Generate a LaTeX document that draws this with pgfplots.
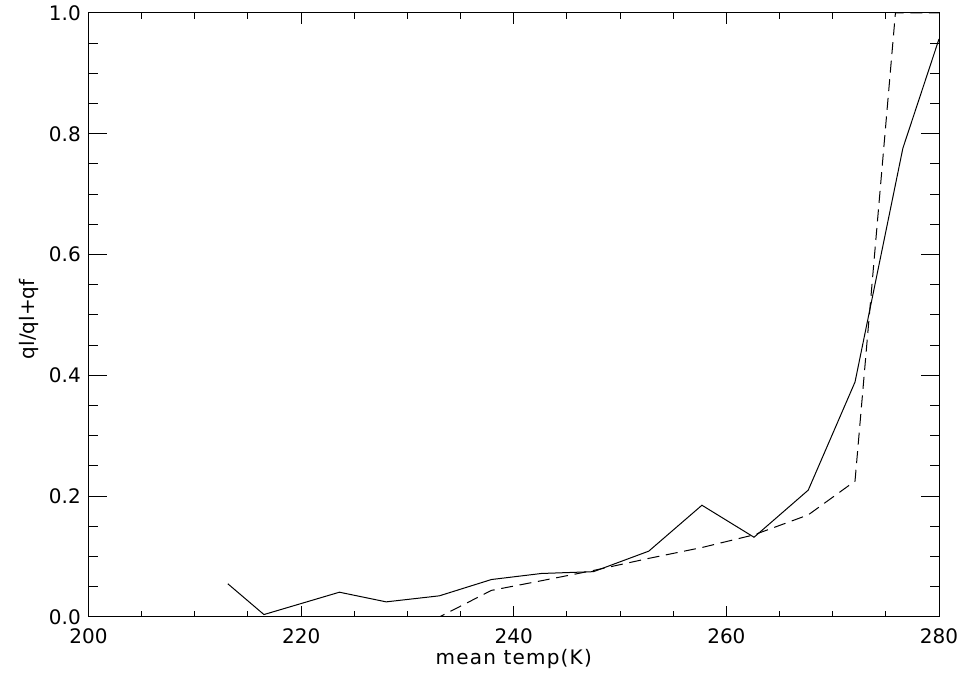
\documentclass[border=0pt]{standalone}
\usepackage{fontspec}
\setmainfont{DejaVu Sans}
\usepackage{pgfplots}
\pgfplotsset{compat=1.18}

\pgfplotsset{
  idlbase/.style={
    scale only axis,
    width=637.9pt, height=453pt,
    xmin=200, xmax=280, ymin=0, ymax=1.0,
    axis line style={black, line width=0.75pt},
    tick style={black, line width=0.75pt},
    tick align=inside,
    ticklabel style={font=\fontsize{15}{18}\selectfont, inner sep=0pt},
    xticklabel style={anchor=north, yshift=-8.25pt},
    yticklabel style={anchor=east, xshift=-5.6pt},
    /pgf/number format/assume math mode=true,
  },
}

\begin{document}
\begin{tikzpicture}
% x ticks, data
\begin{axis}[idlbase, name=ax,
  xtick={200,220,...,280}, minor x tick num=3,
  ytick=\empty,
  major tick length=8.25pt, minor tick length=4.5pt,
  xlabel={\addfontfeature{LetterSpace=6}mean temp(K)},
  every axis x label/.style={at={(axis description cs:0.5,-0.0795)}, anchor=base,
    font=\fontsize{15}{18}\selectfont, inner sep=0pt},
]
\addplot[black, line width=0.75pt] coordinates {
  (213.1,0.055) (216.5,0.004) (223.6,0.041) (228.0,0.025) (233.0,0.035)
  (237.9,0.062) (242.6,0.072) (247.5,0.075) (252.7,0.109) (257.7,0.185)
  (262.6,0.132) (267.7,0.210) (272.1,0.389) (276.6,0.776) (280.0,0.957)
};
\addplot[black, line width=0.75pt, dash pattern=on 9pt off 5pt] coordinates {
  (213.1,0) (216.5,0) (223.6,0) (228.0,0) (233.0,0)
  (237.9,0.044) (242.6,0.060) (247.5,0.077) (252.7,0.097) (257.7,0.115)
  (262.6,0.136) (267.7,0.169) (272.1,0.225) (275.9,1.0) (280.0,1.0)
};
\end{axis}
% y ticks
\begin{axis}[idlbase,
  xtick=\empty,
  ytick={0,0.2,...,1.0}, minor y tick num=3,
  major tick length=13.5pt, minor tick length=6.75pt,
  yticklabel style={/pgf/number format/fixed, /pgf/number format/fixed zerofill,
    /pgf/number format/precision=1},
  ylabel={ql/ql+qf},
  every axis y label/.style={at={(axis description cs:-0.0641,0.493)}, rotate=90, anchor=base,
    font=\fontsize{15}{18}\selectfont, inner sep=0pt},
]
\end{axis}
\path ([xshift=-66.4pt,yshift=-44.3pt]ax.south west) rectangle ([xshift=16.5pt,yshift=9.75pt]ax.north east);
\end{tikzpicture}
\end{document}
